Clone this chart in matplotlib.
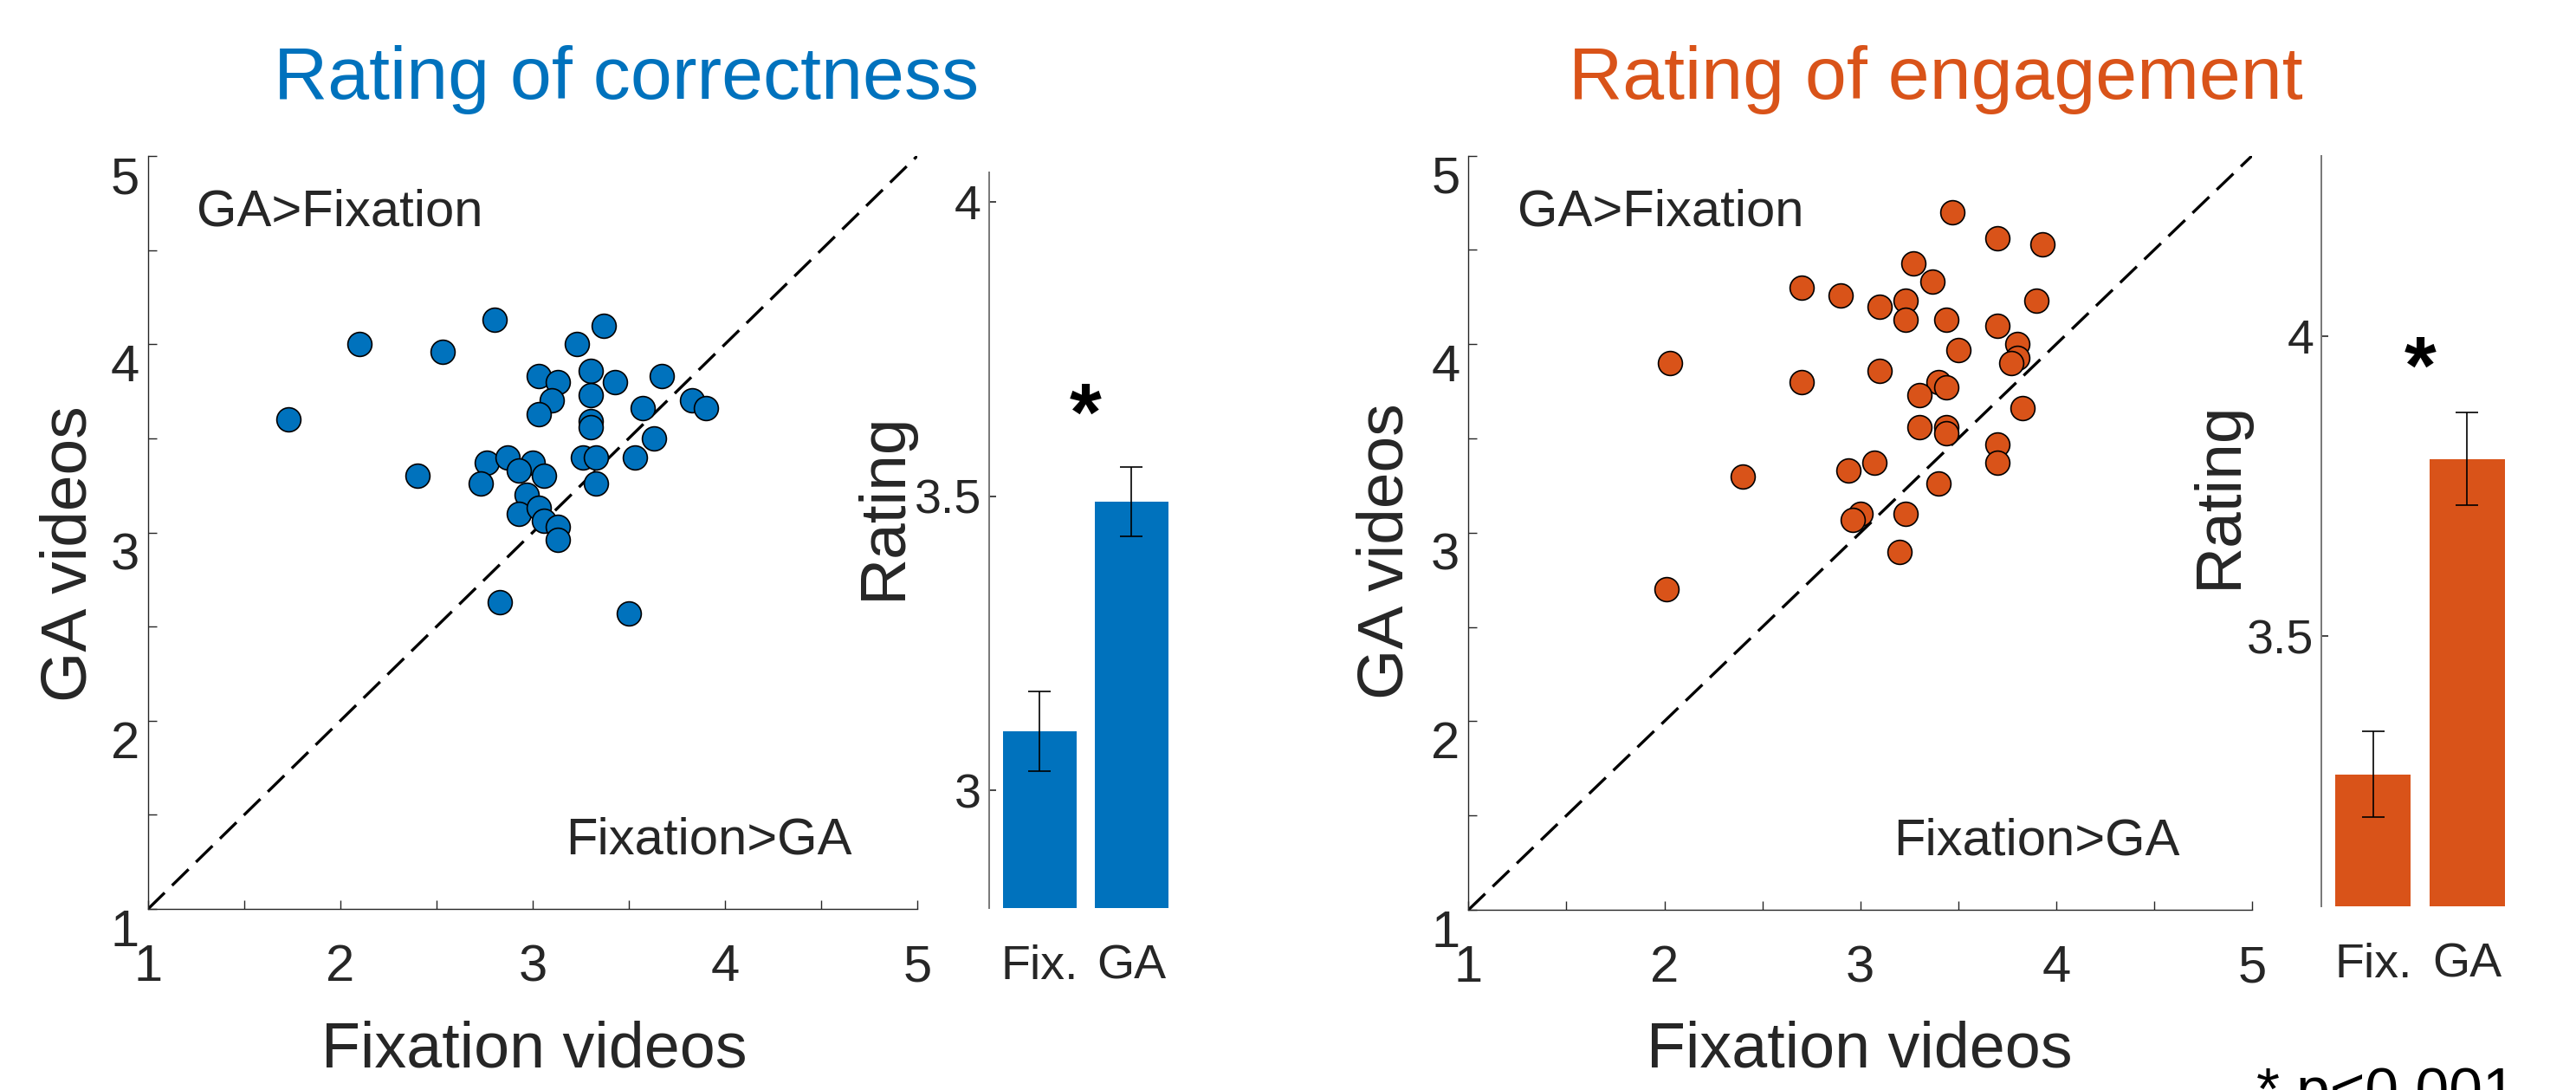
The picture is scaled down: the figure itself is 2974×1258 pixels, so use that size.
import matplotlib
matplotlib.use("Agg")
import matplotlib.pyplot as plt

plt.rcParams['font.family'] = ['Liberation Sans', 'DejaVu Sans']

# 資料
corr_fix = [2.80, 2.10, 2.53, 3.37, 3.23, 1.73, 3.03, 3.13, 3.30, 3.43, 3.67, 3.10, 3.30,
            3.57, 3.83, 3.90, 3.03, 3.30, 3.30, 3.63, 2.40, 2.76, 2.87, 3.00, 2.93, 3.06,
            2.73, 3.26, 3.33, 3.53, 3.33, 2.97, 2.93, 3.03, 3.06, 3.13, 3.13, 2.83, 3.50]
corr_ga = [4.13, 4.00, 3.96, 4.10, 4.00, 3.60, 3.83, 3.80, 3.86, 3.80, 3.83, 3.70, 3.73,
           3.66, 3.70, 3.66, 3.63, 3.59, 3.56, 3.50, 3.30, 3.37, 3.40, 3.37, 3.33, 3.30,
           3.26, 3.40, 3.40, 3.40, 3.26, 3.20, 3.10, 3.13, 3.06, 3.03, 2.96, 2.63, 2.57]

eng_fix = [3.47, 3.70, 3.93, 3.27, 3.37, 2.70, 2.90, 3.10, 3.23, 3.90, 3.23, 3.44, 3.70,
           3.80, 3.80, 3.77, 3.50, 2.03, 3.10, 2.70, 3.40, 3.44, 3.30, 3.83, 3.30, 3.44,
           3.44, 3.70, 3.70, 3.07, 2.94, 2.40, 3.40, 3.00, 2.96, 3.23, 3.20, 2.01]
eng_ga = [4.70, 4.56, 4.53, 4.43, 4.33, 4.30, 4.26, 4.20, 4.23, 4.23, 4.13, 4.13, 4.10,
          4.00, 3.93, 3.90, 3.97, 3.90, 3.86, 3.80, 3.80, 3.77, 3.73, 3.66, 3.56, 3.56,
          3.53, 3.47, 3.37, 3.37, 3.33, 3.30, 3.26, 3.10, 3.07, 3.10, 2.90, 2.70]

bar_labels = ["Fix.", "GA"]
corr_mean = [3.10, 3.49]
corr_err = [0.068, 0.059]
eng_mean = [3.27, 3.795]
eng_err = [0.071, 0.077]

scatter_ticks = [1, 1.5, 2, 2.5, 3, 3.5, 4, 4.5, 5]
scatter_ticklabels = ["1", "", "2", "", "3", "", "4", "", "5"]
identity = [1, 5]

BLUE = "#0072BD"
ORANGE = "#D95319"
TXT = "#262626"

W, H, DPI = 2974, 1258, 200
fig = plt.figure(figsize=(W / DPI, H / DPI), dpi=DPI)


def add_ax(l, t, r, b):
    return fig.add_axes([l / W, 1 - b / H, (r - l) / W, (b - t) / H])


def ftext(px, py, s, **kw):
    fig.text(px / W, 1 - py / H, s, **kw)


def scatter_panel(ax, xs, ys, color):
    ax.plot(identity, identity, color="black", lw=1.2, dashes=(8.0, 3.6), zorder=1)
    ax.scatter(xs, ys, s=100, color=color, edgecolor="black", linewidth=0.6, zorder=3)
    ax.set_xlim(1, 5)
    ax.set_ylim(1, 5)
    ax.set_xticks(scatter_ticks)
    ax.set_yticks(scatter_ticks)
    ax.set_xticklabels(scatter_ticklabels)
    ax.set_yticklabels(scatter_ticklabels)
    for lbl in ax.get_yticklabels():
        lbl.set_va("top")
    ax.tick_params(axis="x", direction="in", length=3.5, width=0.5, colors=TXT,
                   labelsize=21.5, pad=14.5)
    ax.tick_params(axis="y", direction="in", length=3.5, width=0.5, colors=TXT,
                   labelsize=21.5, pad=3.6)
    for side in ["top", "right"]:
        ax.spines[side].set_visible(False)
    for side in ["left", "bottom"]:
        ax.spines[side].set_color(TXT)
        ax.spines[side].set_linewidth(0.5)
    ax.patch.set_alpha(0)
    ax.text(1.25, 4.63, "GA>Fixation", fontsize=21.5, color=TXT, ha="left", va="baseline")
    ax.text(3.17, 1.29, "Fixation>GA", fontsize=21.5, color=TXT, ha="left", va="baseline")


def bar_panel(ax, means, errs, color, ylim, yticks, yticklabels, star_y):
    pos = [1, 2]
    ax.bar(pos, means, width=0.8, color=color, edgecolor="none", zorder=1)
    ax.errorbar(pos, means, yerr=errs, fmt="none", ecolor="black", elinewidth=0.6,
                capsize=4.6, capthick=0.6, zorder=2)
    ax.text(1.5, star_y, "*", fontsize=34, fontweight="bold", ha="center", va="baseline")
    ax.set_xlim(0.45, 2.55)
    ax.set_ylim(*ylim)
    ax.set_xticks(pos)
    ax.set_xticklabels(bar_labels)
    ax.set_yticks(yticks)
    ax.set_yticklabels(yticklabels)
    ax.tick_params(axis="x", length=0, colors=TXT, labelsize=20, pad=15)
    ax.tick_params(axis="y", direction="in", length=3, width=0.6, colors=TXT,
                   labelsize=20, pad=3.2)
    for side in ["top", "right", "bottom"]:
        ax.spines[side].set_visible(False)
    ax.spines["left"].set_color("#777777")
    ax.spines["left"].set_linewidth(0.7)
    ax.patch.set_alpha(0)


ax1 = add_ax(171, 180, 1059, 1049)
scatter_panel(ax1, corr_fix, corr_ga, BLUE)
bx1 = add_ax(1142, 199, 1364.6, 1048)
bar_panel(bx1, corr_mean, corr_err, BLUE, (2.8, 4.05), [3, 3.5, 4], ["3", "3.5", "4"], 3.595)

ax2 = add_ax(1695.4, 179.7, 2600, 1050)
scatter_panel(ax2, eng_fix, eng_ga, ORANGE)
bx2 = add_ax(2680.2, 179.7, 2907.8, 1046)
bar_panel(bx2, eng_mean, eng_err, ORANGE, (3.05, 4.3), [3.5, 4], ["3.5", "4"], 3.905)

# titles and labels
ftext(723, 114.3, "Rating of correctness", fontsize=31, color=BLUE, ha="center", va="baseline")
ftext(2235, 113.7, "Rating of engagement", fontsize=31, color=ORANGE, ha="center", va="baseline")
ftext(616.5, 1232, "Fixation videos", fontsize=26.5, color=TXT, ha="center", va="baseline")
ftext(2147, 1232, "Fixation videos", fontsize=26.5, color=TXT, ha="center", va="baseline")
ftext(80, 639, "GA videos", fontsize=27, color=TXT, rotation=90, ha="center", va="center")
ftext(1600, 636, "GA videos", fontsize=27, color=TXT, rotation=90, ha="center", va="center")
ftext(1020, 584, "Rating", fontsize=27, color=TXT, rotation=90, ha="center", va="center")
ftext(2562, 571, "Rating", fontsize=27, color=TXT, rotation=90, ha="center", va="center")
# cut off at the bottom edge, as in the reference
ftext(2605, 1280, "* p<0.001", fontsize=25, color="black", ha="left", va="baseline")

fig.savefig("out.png", dpi=DPI, facecolor="white")
